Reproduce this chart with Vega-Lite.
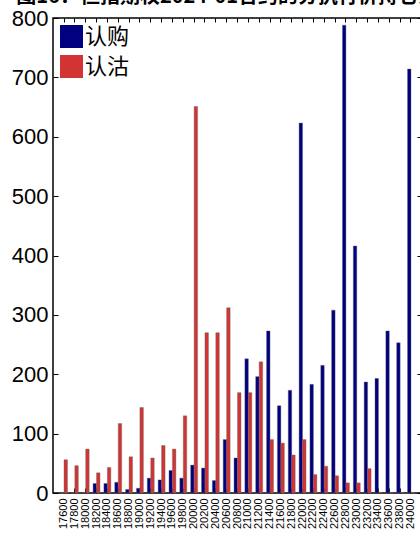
{
  "$schema": "https://vega.github.io/schema/vega-lite/v6.json",
  "autosize": {"type": "none"},
  "width": 369,
  "height": 475,
  "padding": {"left": 53, "top": 18, "right": 0, "bottom": 47},
  "background": "white",
  "title": {"text": "图16：恒指期权2024-01合约的分执行价持仓分布", "font": "Noto Sans CJK SC", "fontSize": 20, "fontWeight": "bold", "anchor": "start", "frame": "bounds", "offset": 0, "dx": 5, "color": "black"},
  "config": {
    "view": {"stroke": "black", "strokeWidth": 1.5},
    "axis": {"grid": false, "domain": false, "tickColor": "black", "tickWidth": 1, "labelColor": "black", "labelFont": "Liberation Sans"}
  },
  "data": {"values": [
    {"strike": "17600", "type": "认购", "value": 0}, {"strike": "17600", "type": "认沽", "value": 56},
    {"strike": "17800", "type": "认购", "value": 0}, {"strike": "17800", "type": "认沽", "value": 46},
    {"strike": "18000", "type": "认购", "value": 0}, {"strike": "18000", "type": "认沽", "value": 74},
    {"strike": "18200", "type": "认购", "value": 16}, {"strike": "18200", "type": "认沽", "value": 34},
    {"strike": "18400", "type": "认购", "value": 16}, {"strike": "18400", "type": "认沽", "value": 43},
    {"strike": "18600", "type": "认购", "value": 18}, {"strike": "18600", "type": "认沽", "value": 117},
    {"strike": "18800", "type": "认购", "value": 6}, {"strike": "18800", "type": "认沽", "value": 61},
    {"strike": "19000", "type": "认购", "value": 8}, {"strike": "19000", "type": "认沽", "value": 144},
    {"strike": "19200", "type": "认购", "value": 25}, {"strike": "19200", "type": "认沽", "value": 59},
    {"strike": "19400", "type": "认购", "value": 22}, {"strike": "19400", "type": "认沽", "value": 80},
    {"strike": "19600", "type": "认购", "value": 38}, {"strike": "19600", "type": "认沽", "value": 74},
    {"strike": "19800", "type": "认购", "value": 25}, {"strike": "19800", "type": "认沽", "value": 130},
    {"strike": "20000", "type": "认购", "value": 47}, {"strike": "20000", "type": "认沽", "value": 651},
    {"strike": "20200", "type": "认购", "value": 42}, {"strike": "20200", "type": "认沽", "value": 270},
    {"strike": "20400", "type": "认购", "value": 21}, {"strike": "20400", "type": "认沽", "value": 270},
    {"strike": "20600", "type": "认购", "value": 90}, {"strike": "20600", "type": "认沽", "value": 312},
    {"strike": "20800", "type": "认购", "value": 59}, {"strike": "20800", "type": "认沽", "value": 169},
    {"strike": "21000", "type": "认购", "value": 226}, {"strike": "21000", "type": "认沽", "value": 169},
    {"strike": "21200", "type": "认购", "value": 196}, {"strike": "21200", "type": "认沽", "value": 221},
    {"strike": "21400", "type": "认购", "value": 273}, {"strike": "21400", "type": "认沽", "value": 90},
    {"strike": "21600", "type": "认购", "value": 147}, {"strike": "21600", "type": "认沽", "value": 84},
    {"strike": "21800", "type": "认购", "value": 173}, {"strike": "21800", "type": "认沽", "value": 64},
    {"strike": "22000", "type": "认购", "value": 623}, {"strike": "22000", "type": "认沽", "value": 90},
    {"strike": "22200", "type": "认购", "value": 183}, {"strike": "22200", "type": "认沽", "value": 31},
    {"strike": "22400", "type": "认购", "value": 215}, {"strike": "22400", "type": "认沽", "value": 45},
    {"strike": "22600", "type": "认购", "value": 308}, {"strike": "22600", "type": "认沽", "value": 29},
    {"strike": "22800", "type": "认购", "value": 788}, {"strike": "22800", "type": "认沽", "value": 17},
    {"strike": "23000", "type": "认购", "value": 416}, {"strike": "23000", "type": "认沽", "value": 17},
    {"strike": "23200", "type": "认购", "value": 187}, {"strike": "23200", "type": "认沽", "value": 41},
    {"strike": "23400", "type": "认购", "value": 193}, {"strike": "23400", "type": "认沽", "value": 1},
    {"strike": "23600", "type": "认购", "value": 273}, {"strike": "23600", "type": "认沽", "value": 1},
    {"strike": "23800", "type": "认购", "value": 253}, {"strike": "23800", "type": "认沽", "value": 1},
    {"strike": "24000", "type": "认购", "value": 714}, {"strike": "24000", "type": "认沽", "value": 1}
  ]},
  "layer": [
    {
      "mark": {"type": "bar", "stroke": "#666666", "strokeWidth": 0.4},
      "encoding": {
        "x": {"field": "strike", "type": "nominal", "sort": "ascending", "scale": {"paddingInner": 0.36, "paddingOuter": 0.695},
              "axis": {"orient": "bottom", "title": null, "labelAngle": -90, "labelFontSize": 11, "tickSize": -5, "labelPadding": 10}},
        "xOffset": {"field": "type", "scale": {"domain": ["认购", "认沽"], "paddingInner": 0, "paddingOuter": 0}},
        "y": {"field": "value", "type": "quantitative", "scale": {"domain": [0, 800], "nice": false},
              "axis": {"orient": "left", "title": null, "values": [0, 100, 200, 300, 400, 500, 600, 700, 800], "labelFontSize": 22, "tickSize": -5, "labelPadding": 10}},
        "color": {"field": "type", "type": "nominal", "scale": {"domain": ["认购", "认沽"], "range": ["#000080", "#D23434"]},
                  "legend": {"orient": "top-left", "offset": 7, "title": null, "symbolType": "square", "symbolSize": 529, "symbolStrokeWidth": 0, "symbolOpacity": 1, "labelFontSize": 22, "labelFont": "Noto Sans CJK SC", "labelColor": "black", "rowPadding": 7, "labelOffset": 2}}
      }
    },
    {
      "mark": {"type": "bar", "opacity": 0},
      "encoding": {
        "x": {"field": "strike", "type": "nominal", "sort": "ascending",
              "axis": {"orient": "top", "title": null, "labels": false, "tickSize": -4}},
        "xOffset": {"field": "type"},
        "y": {"field": "value", "type": "quantitative",
              "axis": {"orient": "right", "title": null, "labels": false, "values": [0, 100, 200, 300, 400, 500, 600, 700, 800], "tickSize": -5}}
      }
    }
  ],
  "resolve": {"axis": {"x": "independent", "y": "independent"}}
}
